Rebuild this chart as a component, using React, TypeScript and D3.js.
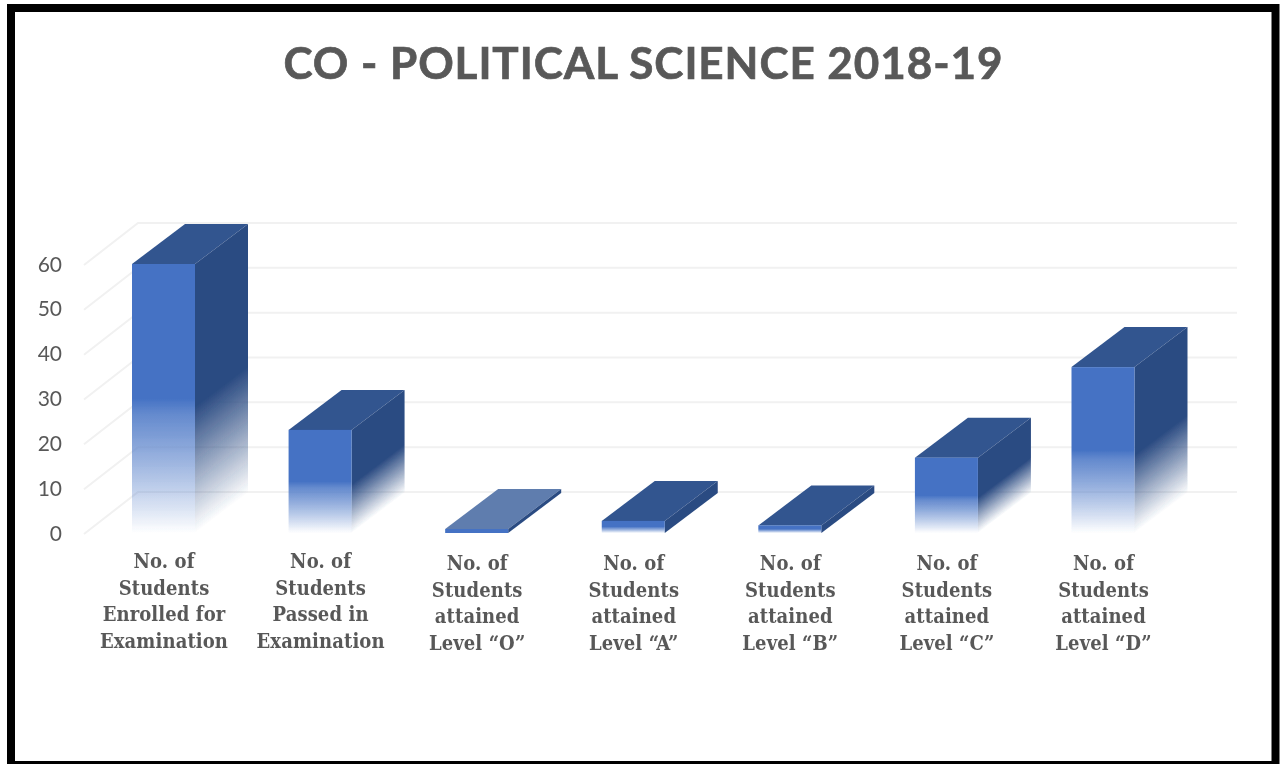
import React from "react";
import * as d3 from "d3";

const categories = [
  ["No. of", "Students", "Enrolled for", "Examination"],
  ["No. of", "Students", "Passed in", "Examination"],
  ["No. of", "Students", "attained", "Level “O”"],
  ["No. of", "Students", "attained", "Level “A”"],
  ["No. of", "Students", "attained", "Level “B”"],
  ["No. of", "Students", "attained", "Level “C”"],
  ["No. of", "Students", "attained", "Level “D”"],
];
const values = [60, 23, 0, 2.7, 1.7, 16.8, 37];
const yTicks = [0, 10, 20, 30, 40, 50, 60];
const title = "CO - POLITICAL SCIENCE 2018-19";

const W = 1280, H = 764;
const depthX = 53, depthY = 40;
const y = d3.scaleLinear().domain([0, 60]).range([533, 264]);
const barLeft = d3.scaleLinear().domain([0, 6]).range([132, 1071.5]);
const barW = 63;
const GREY = "#595959";

export default function App() {
  const side = (px: number, top: number) => `matrix(1,${-depthY / depthX},0,1,${px},${top})`;
  return (
    <svg width={W} height={H} viewBox={`0 0 ${W} ${H}`} style={{ position: "fixed", left: 0, top: 0, background: "#fff" }}>
      <defs>
        <linearGradient id="front" x1="0" y1="0" x2="0" y2="1">
          <stop offset="0" stopColor="#4472c4" />
          <stop offset="0.5" stopColor="#4472c4" />
          <stop offset="0.56" stopColor="#5f86cc" stopOpacity="0.96" />
          <stop offset="1" stopColor="#4472c4" stopOpacity="0" />
        </linearGradient>
        <linearGradient id="side" x1="0" y1="0" x2="0" y2="1">
          <stop offset="0" stopColor="#2b4b82" />
          <stop offset="0.53" stopColor="#2b4b82" />
          <stop offset="1" stopColor="#2b4b82" stopOpacity="0" />
        </linearGradient>
        <filter id="soft" x="-5%" y="-5%" width="110%" height="110%">
          <feGaussianBlur stdDeviation="0.6" />
        </filter>
        <filter id="softText" x="-5%" y="-5%" width="110%" height="110%">
          <feGaussianBlur stdDeviation="0.45" />
        </filter>
      </defs>
      <rect x={11} y={8} width={1264.5} height={757} fill="#fff" stroke="#000" strokeWidth={8} />
      <text x={643} y={79} textAnchor="middle" fontFamily="Lato" fontWeight={700} fontSize={44} fill={GREY} stroke={GREY} strokeWidth={0.7} textLength={719} lengthAdjust="spacing" filter="url(#softText)">{title}</text>
      <g fill="none" stroke="#f1f1f1" strokeWidth={2} filter="url(#soft)">
        {yTicks.map((t) => (
          <path key={t} d={`M84,${y(t) + 1}L${84 + 54},${y(t) - 41}H1237`} />
        ))}
      </g>
      <g filter="url(#softText)">
        {yTicks.map((t) => (
          <text key={t} x={62} y={y(t) + 7.5} textAnchor="end" fontFamily="Lato" fontSize={21} fill={GREY}>{t}</text>
        ))}
      </g>
      <g filter="url(#soft)">
        {values.map((v, i) => {
          const px = barLeft(i);
          const empty = v === 0;
          const h = empty ? 4 : y(0) - y(v);
          const top = y(0) - h;
          return (
            <g key={i}>
              <path
                d={`M${px},${top}l${depthX},${-depthY}h${barW}l${-depthX},${depthY}z`}
                fill={empty ? "#5f7dae" : "#31548f"}
              />
              <rect transform={side(px + barW, top)} x={0} y={0} width={depthX} height={h} fill={h < 30 ? "#2b4b82" : "url(#side)"} />
              <rect x={px} y={top} width={barW} height={h} fill={empty ? "#4472c4" : "url(#front)"} />
            </g>
          );
        })}
      </g>
      <g filter="url(#softText)">
        {categories.map((lines, i) => (
          <text key={i} textAnchor="middle" fontFamily="'DejaVu Serif Condensed','DejaVu Serif'" fontWeight={700} fontSize={20} letterSpacing={0.1} fill={GREY}>
            {lines.map((l, j) => (
              <tspan key={j} x={barLeft(i) + barW / 2 + 0.5} y={(i < 2 ? 568 : 570) + j * 26.7}>{l}</tspan>
            ))}
          </text>
        ))}
      </g>
    </svg>
  );
}
